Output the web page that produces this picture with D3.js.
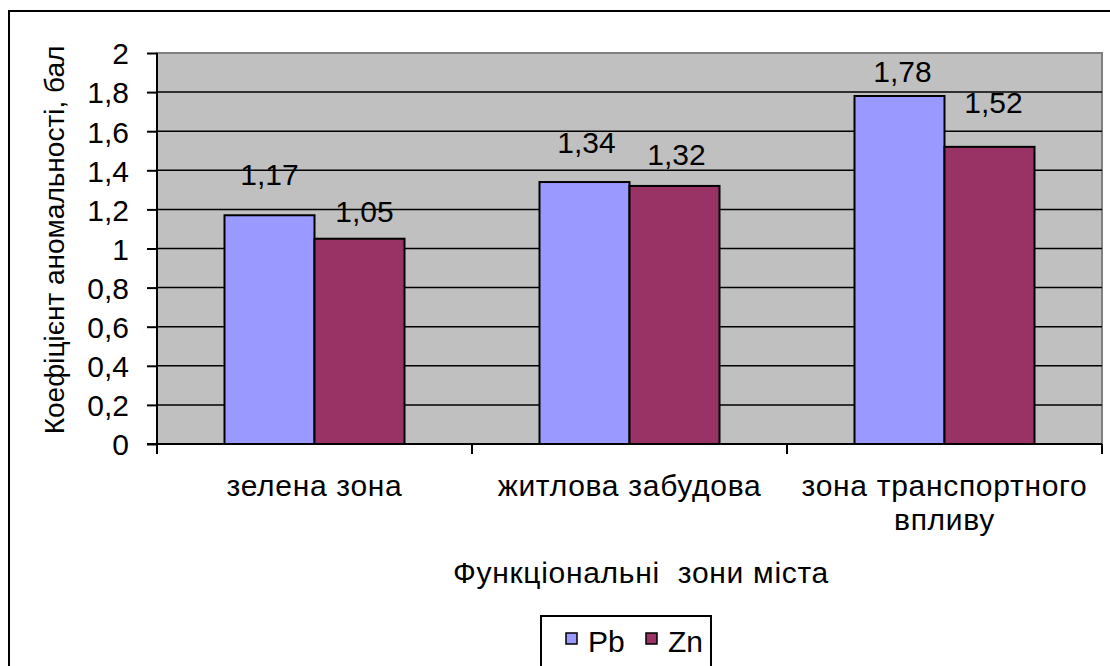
<!DOCTYPE html>
<html lang="uk">
<head>
    <meta charset="UTF-8">
    <title>Коефіцієнт аномальності</title>
    <style>
        body { margin: 0; background: #fff; }
        svg text { font-family: "Liberation Sans", Arial, sans-serif; fill: #000; }
    </style>
</head>
<body>
<script src="https://d3js.org/d3.v7.min.js"></script>
<script>
    // data
    const categories = ['зелена зона', 'житлова забудова', 'зона транспортного\nвпливу'];
    const seriesNames = ['Pb', 'Zn'];
    const pbValues = [1.17, 1.34, 1.78];
    const znValues = [1.05, 1.32, 1.52];
    const yTicks = [0, 0.2, 0.4, 0.6, 0.8, 1, 1.2, 1.4, 1.6, 1.8, 2];

    // the value labels were nudged by hand in the original, so keep their shifts here
    const labelShift = {
        Pb: [[0, -30], [2, -29], [3, -14]],
        Zn: [[5, -17], [2, -21], [4, -34]]
    };
    const colors = {Pb: '#9999ff', Zn: '#993366'};

    const width = 1110, height = 666;
    const plot = {left: 157, top: 53, right: 1102, bottom: 444};
    const fontSize = 30;

    const svg = d3.select('body').append('svg')
        .attr('width', width)
        .attr('height', height);

    // outer frame, goes past the right and bottom edge like the original
    svg.append('rect')
        .attr('x', 9).attr('y', 11)
        .attr('width', 1120).attr('height', 680)
        .attr('fill', '#fff')
        .attr('stroke', '#000')
        .attr('stroke-width', 2);

    const ukLocale = d3.formatLocale({decimal: ',', thousands: ' ', grouping: [3], currency: ['', '']});
    const fmt = ukLocale.format('.2~f');

    const y = d3.scaleLinear().domain([0, 2]).range([plot.bottom, plot.top]);
    const x0 = d3.scaleBand().domain(categories).range([plot.left, plot.right]).padding(0);
    const x1 = d3.scaleBand().domain(seriesNames).range([0, x0.bandwidth()])
        .paddingInner(0).paddingOuter(0.75);

    // plot area
    svg.append('rect')
        .attr('x', plot.left).attr('y', plot.top)
        .attr('width', plot.right - plot.left)
        .attr('height', plot.bottom - plot.top)
        .attr('fill', '#c0c0c0')
        .attr('stroke', '#808080')
        .attr('stroke-width', 2);

    // gridlines
    svg.append('g')
        .selectAll('line')
        .data(yTicks.filter(d => d > 0 && d < 2))
        .enter().append('line')
        .attr('x1', plot.left).attr('x2', plot.right)
        .attr('y1', d => y(d)).attr('y2', d => y(d))
        .attr('stroke', '#000')
        .attr('stroke-width', 1.5);

    // bars
    const groups = svg.append('g')
        .selectAll('g')
        .data(categories)
        .enter().append('g')
        .attr('transform', d => `translate(${x0(d)},0)`);

    const rows = categories.map((c, i) => [
        {series: 'Pb', value: pbValues[i], i: i},
        {series: 'Zn', value: znValues[i], i: i}
    ]);

    groups.selectAll('rect')
        .data((d, i) => rows[i])
        .enter().append('rect')
        .attr('x', d => x1(d.series))
        .attr('y', d => y(d.value))
        .attr('width', x1.bandwidth())
        .attr('height', d => y(0) - y(d.value))
        .attr('fill', d => colors[d.series])
        .attr('stroke', '#000')
        .attr('stroke-width', 2);

    // value labels
    groups.selectAll('text.value')
        .data((d, i) => rows[i])
        .enter().append('text')
        .attr('class', 'value')
        .attr('x', d => x1(d.series) + x1.bandwidth() / 2 + labelShift[d.series][d.i][0])
        .attr('y', d => y(d.value) + labelShift[d.series][d.i][1])
        .attr('text-anchor', 'middle')
        .style('font-size', fontSize + 'px')
        .text(d => fmt(d.value));

    // y axis
    const yAxis = svg.append('g')
        .attr('transform', `translate(${plot.left},0)`)
        .call(d3.axisLeft(y).tickValues(yTicks).tickSize(10).tickPadding(18)
            .tickFormat(d => fmt(d)));
    yAxis.select('.domain').attr('stroke-width', 2).attr('d', `M0,${plot.top}V${plot.bottom}`);
    yAxis.selectAll('.tick line').attr('stroke-width', 2);
    yAxis.selectAll('.tick text')
        .style('font-size', fontSize + 'px')
        .style('font-family', '"Liberation Sans", Arial, sans-serif')
        .attr('dy', '0.36em');

    // x axis line and tick marks between categories
    svg.append('line')
        .attr('x1', plot.left - 10).attr('x2', plot.right)
        .attr('y1', plot.bottom).attr('y2', plot.bottom)
        .attr('stroke', '#000').attr('stroke-width', 2);

    const bounds = categories.map(c => x0(c)).concat([plot.right]);
    svg.append('g')
        .selectAll('line')
        .data(bounds)
        .enter().append('line')
        .attr('x1', d => d).attr('x2', d => d)
        .attr('y1', plot.bottom).attr('y2', plot.bottom + 10)
        .attr('stroke', '#000').attr('stroke-width', 2);

    // category labels
    const catText = svg.append('g')
        .selectAll('text')
        .data(categories)
        .enter().append('text')
        .attr('x', d => x0(d) + x0.bandwidth() / 2)
        .attr('y', 496)
        .attr('text-anchor', 'middle')
        .style('letter-spacing', '0.7px')
        .style('font-size', fontSize + 'px');
    catText.each(function(d) {
        const t = d3.select(this);
        d.split('\n').forEach((line, k) => {
            t.append('tspan')
                .attr('x', x0(d) + x0.bandwidth() / 2)
                .attr('dy', k === 0 ? 0 : 34)
                .text(line);
        });
    });

    // axis titles
    svg.append('text')
        .attr('x', 641).attr('y', 583)
        .attr('text-anchor', 'middle')
        .attr('xml:space', 'preserve')
        .style('white-space', 'pre')
        .style('letter-spacing', '0.7px')
        .style('font-size', fontSize + 'px')
        .text('Функціональні  зони міста');

    svg.append('text')
        .attr('transform', `translate(64,240) rotate(-90)`)
        .attr('text-anchor', 'middle')
        .style('font-size', '28px')
        .text('Коефіцієнт аномальності, бал');

    // legend
    const legend = svg.append('g').attr('transform', 'translate(541,616)');
    legend.append('rect')
        .attr('width', 170).attr('height', 60)
        .attr('fill', '#fff')
        .attr('stroke', '#000')
        .attr('stroke-width', 2);

    const legendX = d3.scalePoint().domain(seriesNames).range([25, 105]);
    const items = legend.selectAll('g.item')
        .data(seriesNames)
        .enter().append('g')
        .attr('class', 'item')
        .attr('transform', d => `translate(${legendX(d)},0)`);
    items.append('rect')
        .attr('y', 17).attr('width', 11).attr('height', 11)
        .attr('fill', d => colors[d])
        .attr('stroke', '#000')
        .attr('stroke-width', 1.5);
    items.append('text')
        .attr('x', 22).attr('y', 36)
        .style('font-size', fontSize + 'px')
        .text(d => d);
</script>
</body>
</html>
